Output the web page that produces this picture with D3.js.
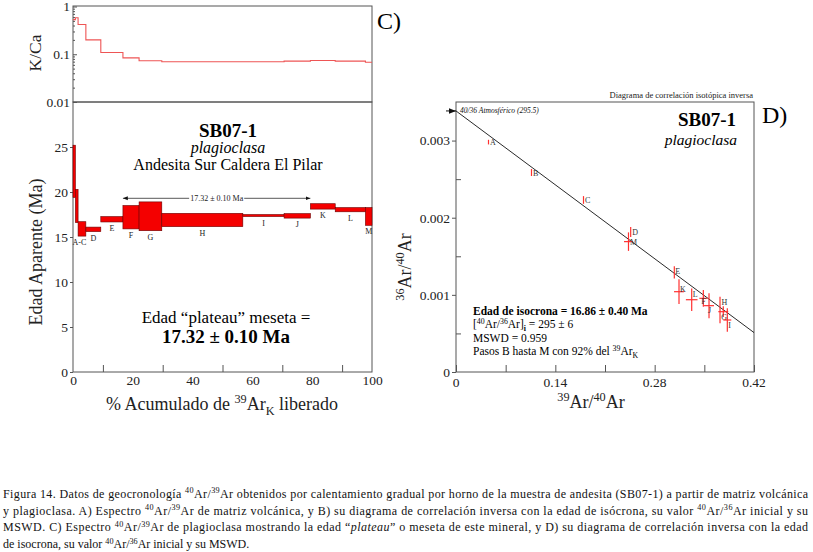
<!DOCTYPE html>
<html>
<head>
<meta charset="utf-8">
<script src="https://cdn.jsdelivr.net/npm/d3@7"></script>
<style>
body { margin: 0; background: #fff; }
svg { display: block; }
</style>
</head>
<body>
<script>
// pasos de calentamiento, plagioclasa SB07-1 (espectro de edades)
var steps = ["A", "B", "C", "D", "E", "F", "G", "H", "I", "J", "K", "L", "M"];
var cumTop = [0.8, 1.7, 4.3, 9.3, 16.7, 22.1, 29.7, 56.8, 70.6, 79.4, 87.7, 97.8, 100];
var ageLo = [19.4, 16.6, 15.1, 15.6, 16.67, 15.9, 15.7, 16.15, 17.27, 17.1, 18.1, 17.8, 16.3];
var ageHi = [25.2, 20.3, 16.7, 16.1, 17.27, 18.5, 18.9, 17.63, 17.5, 17.6, 18.7, 18.27, 18.27];
var kca = [0.53, 0.58, 0.42, 0.2, 0.109, 0.084, 0.073, 0.0695, 0.0695, 0.0718, 0.074, 0.0718, 0.068];
var specLabels = ["", "", "A-C", "D", "E", "F", "G", "H", "I", "J", "K", "L", "M"];

// meseta (plateau)
var plateauFrom = 16.7;
var plateauTo = 79.4;
var plateauArrowAge = 19.3;
var plateauText = "17.32 \u00b1 0.10 Ma";

// ticks
var ageTicks = [0, 5, 10, 15, 20, 25];
var kcaTicks = [0.01, 0.1, 1];
var kcaTickText = ["0.01", "0.1", "1"];
var pctTicks = [0, 20, 40, 60, 80, 100];
var pctMinor = [10, 30, 50, 70, 90];

// diagrama de isocrona inversa
var isoNames = ["A", "B", "C", "D", "M", "E", "K", "L", "F", "J", "H", "G", "I"];
var isoX = [0.0458, 0.1064, 0.1797, 0.2462, 0.2431, 0.3077, 0.3143, 0.3322, 0.3486, 0.3566, 0.3721, 0.3767, 0.3824];
var isoY = [0.00298, 0.002586, 0.00223, 0.001815, 0.00169, 0.001292, 0.001041, 0.000937, 0.000955, 0.00086, 0.000804, 0.000782, 0.000674];
var isoErrX = [0, 0, 0, 0, 0.0063, 0, 0.007, 0.0082, 0.0056, 0.007, 0, 0.007, 0.0056];
var isoErrY = [0.00003, 0.000045, 0.00005, 0.000065, 0.00012, 0.00008, 0.00016, 0.000146, 0.000108, 0.000162, 0.000172, 0.00007, 0.000152];
var isoLineX = [0, 0.42];
var isoLineY = [1 / 295.5, 0.000511];
var isoXTicks = [0, 0.14, 0.28, 0.42];
var isoXMinor = [0.07, 0.21, 0.35];
var isoYTicks = [0, 0.001, 0.002, 0.003];
var isoYMinor = [0.0005, 0.0015, 0.0025];

// plaatsing van de letters naast de kruisjes (in pixels)
var labelShift = {E: [1, 2], K: [1, 0], L: [1, -3], F: [-2, 6], J: [-1, 7], H: [1.5, -5], G: [-2, 8], I: [1, 8]};

var serif = "'Liberation Serif', 'Times New Roman', serif";
var frameColor = "#555";

var svg = d3.select("body").append("svg")
.attr("width", 813)
.attr("height", 552)
.attr("font-family", serif);

svg.append("defs").append("marker")
.attr("id", "arrow")
.attr("viewBox", "0 0 10 10")
.attr("refX", 10)
.attr("refY", 5)
.attr("markerWidth", 7)
.attr("markerHeight", 7)
.attr("orient", "auto-start-reverse")
.append("path")
.attr("d", "M0,1 L10,5 L0,9 Z")
.attr("fill", "#111");

// tekst met super- en subscripts
function rich(sel, parts, size) {
  var shift = 0;
  parts.forEach(function (p) {
    if (typeof p === "string") p = {t: p};
    var target = p.sup ? -size * 0.38 : (p.sub ? size * 0.25 : 0);
    var ts = sel.append("tspan").text(p.t).attr("dy", target - shift);
    shift = target;
    if (p.sup || p.sub) ts.attr("font-size", size * 0.68);
    if (p.i) ts.attr("font-style", "italic");
    if (p.b) ts.attr("font-weight", "bold");
  });
  return sel;
}

function styleAxis(g, size) {
  g.select(".domain").remove();
  g.selectAll("line").attr("stroke", frameColor);
  g.attr("font-family", serif);
  g.selectAll("text")
  .attr("font-family", serif)
  .attr("font-size", size)
  .attr("fill", "#222");
}

// ---------- panel izquierdo: K/Ca + espectro ----------
var xL = d3.scaleLinear().domain([0, 100]).range([73, 372]);
var yK = d3.scaleLog().domain([0.01, 1]).range([102, 6.5]);
var yA = d3.scaleLinear().domain([0, 30]).range([372, 102]);

svg.append("rect").attr("x", 73).attr("y", 6).attr("width", 299).attr("height", 96)
.attr("fill", "none").attr("stroke", frameColor);
svg.append("rect").attr("x", 73).attr("y", 102).attr("width", 299).attr("height", 270)
.attr("fill", "none").attr("stroke", frameColor);

// log ticks K/Ca
var kcaMinor = [];
[0.01, 0.1].forEach(function (d) {
  for (var k = 2; k < 10; k++) kcaMinor.push(d * k);
});
var gk = svg.append("g").attr("transform", "translate(73,0)");
gk.call(d3.axisRight(yK).tickValues(kcaMinor).tickSize(2).tickFormat(""));
styleAxis(gk, 13);
var gk2 = svg.append("g").attr("transform", "translate(73,0)");
gk2.call(d3.axisRight(yK).tickValues(kcaTicks).tickSize(4).tickFormat(""));
styleAxis(gk2, 13);
kcaTicks.forEach(function (d, i) {
  svg.append("text")
  .attr("x", 70)
  .attr("y", yK(d) + 4.5)
  .attr("text-anchor", "end")
  .attr("font-size", 13.5)
  .attr("fill", "#222")
  .text(kcaTickText[i]);
});

// K/Ca stap-lijn
var kcaPts = steps.map(function (s, i) { return [i == 0 ? 0 : cumTop[i - 1], kca[i]]; });
kcaPts.push([100, kca[kca.length - 1]]);
svg.append("path")
.attr("d", d3.line().x(d => xL(d[0])).y(d => yK(d[1])).curve(d3.curveStepAfter)(kcaPts))
.attr("fill", "none")
.attr("stroke", "#ee5555")
.attr("stroke-width", 1.1);

// ejes edad
var ga = svg.append("g").attr("transform", "translate(73,0)");
ga.call(d3.axisLeft(yA).tickValues(ageTicks).tickSize(3).tickPadding(2));
styleAxis(ga, 13.5);

var gx = svg.append("g").attr("transform", "translate(0,372)");
gx.call(d3.axisBottom(xL).tickValues(pctTicks).tickSize(0).tickPadding(3));
styleAxis(gx, 13.5);
var gx2 = svg.append("g").attr("transform", "translate(0,372)");
gx2.call(d3.axisTop(xL).tickValues(pctMinor).tickSize(7).tickFormat(""));
styleAxis(gx2, 13.5);

// barras del espectro
svg.selectAll("rect.step")
.data(steps)
.enter()
.append("rect")
.classed("step", true)
.attr("x", (d, i) => xL(i == 0 ? 0 : cumTop[i - 1]))
.attr("width", (d, i) => xL(cumTop[i]) - xL(i == 0 ? 0 : cumTop[i - 1]))
.attr("y", (d, i) => yA(ageHi[i]))
.attr("height", (d, i) => yA(ageLo[i]) - yA(ageHi[i]))
.attr("fill", "#f40000")
.attr("stroke", "#6a0000")
.attr("stroke-width", 0.6);

specLabels.forEach(function (t, i) {
  if (!t) return;
  var x0 = t == "A-C" ? 0 : (i == 0 ? 0 : cumTop[i - 1]);
  svg.append("text")
  .attr("x", xL((x0 + cumTop[i]) / 2))
  .attr("y", yA(ageLo[i]) + 9)
  .attr("text-anchor", "middle")
  .attr("font-size", 8)
  .attr("fill", "#222")
  .text(t);
});

// flecha de la meseta
var plY = yA(plateauArrowAge);
var plMid = (xL(plateauFrom) + xL(plateauTo)) / 2;
var plText = svg.append("text")
.attr("x", plMid)
.attr("y", plY + 3)
.attr("text-anchor", "middle")
.attr("font-size", 8)
.attr("fill", "#222")
.text(plateauText);
var plW = plText.node().getComputedTextLength() / 2 + 1;
svg.append("line")
.attr("x1", plMid - plW).attr("x2", xL(plateauFrom))
.attr("y1", plY).attr("y2", plY)
.attr("stroke", "#111").attr("stroke-width", 0.7)
.attr("marker-end", "url(#arrow)");
svg.append("line")
.attr("x1", plMid + plW).attr("x2", xL(plateauTo))
.attr("y1", plY).attr("y2", plY)
.attr("stroke", "#111").attr("stroke-width", 0.7)
.attr("marker-end", "url(#arrow)");

// textos panel izquierdo
svg.append("text").attr("x", 228).attr("y", 137).attr("text-anchor", "middle")
.attr("font-size", 19).attr("font-weight", "bold").text("SB07-1");
svg.append("text").attr("x", 228).attr("y", 153).attr("text-anchor", "middle")
.attr("font-size", 16).attr("font-style", "italic").text("plagioclasa");
svg.append("text").attr("x", 228).attr("y", 170).attr("text-anchor", "middle")
.attr("font-size", 16).text("Andesita Sur Caldera El Pilar");
svg.append("text").attr("x", 226).attr("y", 323).attr("text-anchor", "middle")
.attr("font-size", 17).text("Edad \u201cplateau\u201d meseta =");
svg.append("text").attr("x", 226).attr("y", 343).attr("text-anchor", "middle")
.attr("font-size", 19).attr("font-weight", "bold").text("17.32 \u00b1 0.10 Ma");

svg.append("text").attr("x", 377).attr("y", 29).attr("font-size", 24).text("C)");

svg.append("text")
.attr("transform", "translate(41,53) rotate(-90)")
.attr("text-anchor", "middle")
.attr("font-size", 17.5)
.attr("fill", "#222")
.text("K/Ca");
svg.append("text")
.attr("transform", "translate(42,252) rotate(-90)")
.attr("text-anchor", "middle")
.attr("font-size", 18)
.attr("fill", "#222")
.text("Edad Aparente (Ma)");
rich(svg.append("text")
.attr("x", 222)
.attr("y", 410)
.attr("text-anchor", "middle")
.attr("font-size", 18)
.attr("fill", "#222"),
["% Acumulado de ", {t: "39", sup: true}, "Ar", {t: "K", sub: true}, " liberado"], 18);

// ---------- panel derecho: isocrona inversa ----------
var xI = d3.scaleLinear().domain([0, 0.42]).range([456, 754]);
var yI = d3.scaleLinear().domain([0, 0.0035]).range([372, 102]);

svg.append("rect").attr("x", 456).attr("y", 102).attr("width", 298).attr("height", 270)
.attr("fill", "none").attr("stroke", frameColor);

var gix = svg.append("g").attr("transform", "translate(0,372)");
gix.call(d3.axisTop(xI).tickValues(isoXTicks.concat(isoXMinor)).tickSize(7).tickFormat(""));
styleAxis(gix, 13.5);
isoXTicks.forEach(function (d) {
  svg.append("text")
  .attr("x", xI(d))
  .attr("y", 387)
  .attr("text-anchor", "middle")
  .attr("font-size", 13.5)
  .attr("fill", "#222")
  .text(d == 0 ? "0" : d.toFixed(2));
});
var giy = svg.append("g").attr("transform", "translate(456,0)");
giy.call(d3.axisLeft(yI).tickValues(isoYTicks).tickSize(4).tickPadding(2)
.tickFormat(d => d == 0 ? "0" : d.toFixed(3)));
styleAxis(giy, 13.5);
var giy2 = svg.append("g").attr("transform", "translate(456,0)");
giy2.call(d3.axisRight(yI).tickValues(isoYMinor).tickSize(5).tickFormat(""));
styleAxis(giy2, 13.5);

// linea de isocrona
svg.append("line")
.attr("x1", xI(isoLineX[0])).attr("y1", yI(isoLineY[0]))
.attr("x2", xI(isoLineX[1])).attr("y2", yI(isoLineY[1]))
.attr("stroke", "#111").attr("stroke-width", 0.9);

// flecha atmosferica
svg.append("line")
.attr("x1", 446).attr("x2", xI(0))
.attr("y1", yI(isoLineY[0])).attr("y2", yI(isoLineY[0]))
.attr("stroke", "#111").attr("stroke-width", 1)
.attr("marker-end", "url(#arrow)");
svg.append("text")
.attr("x", 460)
.attr("y", yI(isoLineY[0]) + 2.5)
.attr("font-size", 7.5)
.attr("font-style", "italic")
.attr("fill", "#111")
.text("40/36 Atmosf\u00e9rico (295.5)");

// cruces de error
var cross = svg.selectAll("g.pt")
.data(isoNames)
.enter()
.append("g")
.classed("pt", true);
cross.append("line")
.attr("x1", (d, i) => xI(isoX[i]))
.attr("x2", (d, i) => xI(isoX[i]))
.attr("y1", (d, i) => yI(isoY[i] - isoErrY[i]))
.attr("y2", (d, i) => yI(isoY[i] + isoErrY[i]))
.attr("stroke", "#ff3030")
.attr("stroke-width", 1.2);
cross.filter((d, i) => isoErrX[i] > 0)
.append("line")
.attr("x1", d => xI(isoX[isoNames.indexOf(d)] - isoErrX[isoNames.indexOf(d)]))
.attr("x2", d => xI(isoX[isoNames.indexOf(d)] + isoErrX[isoNames.indexOf(d)]))
.attr("y1", d => yI(isoY[isoNames.indexOf(d)]))
.attr("y2", d => yI(isoY[isoNames.indexOf(d)]))
.attr("stroke", "#ff3030")
.attr("stroke-width", 1.2);
cross.append("text")
.attr("x", (d, i) => xI(isoX[i]) + (labelShift[d] ? labelShift[d][0] : 1.5))
.attr("y", (d, i) => yI(isoY[i]) + (labelShift[d] ? labelShift[d][1] : 3))
.attr("font-size", 8)
.attr("fill", "#333")
.text(d => d);

// textos panel derecho
svg.append("text").attr("x", 753).attr("y", 98).attr("text-anchor", "end")
.attr("font-size", 8.5).attr("fill", "#222").text("Diagrama de correlaci\u00f3n isot\u00f3pica inversa");
svg.append("text").attr("x", 736).attr("y", 126).attr("text-anchor", "end")
.attr("font-size", 19).attr("font-weight", "bold").text("SB07-1");
svg.append("text").attr("x", 737).attr("y", 144.5).attr("text-anchor", "end")
.attr("font-size", 15.5).attr("font-style", "italic").text("plagioclasa");
svg.append("text").attr("x", 762).attr("y", 123).attr("font-size", 24).text("D)");

svg.append("text").attr("x", 473).attr("y", 315)
.attr("font-size", 11.5).attr("font-weight", "bold")
.text("Edad de isocrona = 16.86 \u00b1 0.40 Ma");
rich(svg.append("text").attr("x", 473).attr("y", 328).attr("font-size", 11.5),
["[", {t: "40", sup: true}, "Ar/", {t: "36", sup: true}, "Ar]", {t: "i", sub: true, b: true}, " = 295 \u00b1 6"], 11.5);
svg.append("text").attr("x", 473).attr("y", 342).attr("font-size", 11.5).text("MSWD = 0.959");
rich(svg.append("text").attr("x", 473).attr("y", 355).attr("font-size", 11.5),
["Pasos B hasta M con 92% del ", {t: "39", sup: true}, "Ar", {t: "K", sub: true}], 11.5);

rich(svg.append("text")
.attr("transform", "translate(411,267) rotate(-90)")
.attr("text-anchor", "middle")
.attr("font-size", 18)
.attr("fill", "#222"),
[{t: "36", sup: true}, "Ar/", {t: "40", sup: true}, "Ar"], 18);
rich(svg.append("text")
.attr("x", 591)
.attr("y", 408)
.attr("text-anchor", "middle")
.attr("font-size", 18)
.attr("fill", "#222"),
[{t: "39", sup: true}, "Ar/", {t: "40", sup: true}, "Ar"], 18);

// ---------- pie de figura ----------
var caption = [
  ["Figura 14. Datos de geocronolog\u00eda ", {t: "40", sup: true}, "Ar/", {t: "39", sup: true}, "Ar obtenidos por calentamiento gradual por horno de la muestra de andesita (SB07-1) a partir de matriz volc\u00e1nica"],
  ["y plagioclasa. A) Espectro ", {t: "40", sup: true}, "Ar/", {t: "39", sup: true}, "Ar de matriz volc\u00e1nica, y B) su diagrama de correlaci\u00f3n inversa con la edad de is\u00f3crona, su valor ", {t: "40", sup: true}, "Ar/", {t: "36", sup: true}, "Ar inicial y su"],
  ["MSWD. C) Espectro ", {t: "40", sup: true}, "Ar/", {t: "39", sup: true}, "Ar de plagioclasa mostrando la edad \u201c", {t: "plateau", i: true}, "\u201d o meseta de este mineral, y D) su diagrama de correlaci\u00f3n inversa con la edad"],
  ["de isocrona, su valor ", {t: "40", sup: true}, "Ar/", {t: "36", sup: true}, "Ar inicial y su MSWD."]
];
caption.forEach(function (parts, i) {
  var t = svg.append("text")
  .attr("x", 3)
  .attr("y", 498 + i * 16.7)
  .attr("font-size", 12)
  .attr("fill", "#111");
  rich(t, parts, 12);
  if (i < caption.length - 1) {
    t.attr("textLength", 805).attr("lengthAdjust", "spacing");
  }
});
</script>
</body>
</html>
